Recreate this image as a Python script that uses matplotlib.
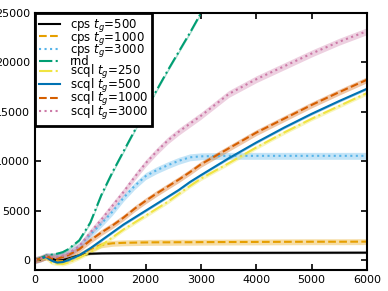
import numpy as np
import matplotlib
matplotlib.use('Agg')
import matplotlib.pyplot as plt

# gemeinsames x-Raster
x = [0, 100, 200, 300, 400, 500, 600, 800, 1000, 1200, 1400, 1600, 1800, 2000,
     2200, 2400, 2600, 2800, 3000, 3500, 4000, 4500, 5000, 5500, 6000]

cps500 = [0, 150, 350, 150, -50, 0, 150, 500, 650, 690, 700, 705, 710, 715,
          720, 720, 725, 725, 730, 735, 740, 745, 750, 755, 760]
cps1000 = [0, 150, 350, 150, -100, -100, 50, 500, 1100, 1550, 1700, 1750, 1770, 1790,
           1800, 1800, 1810, 1810, 1820, 1830, 1840, 1850, 1860, 1860, 1870]
cps3000 = [0, 150, 400, 350, 300, 400, 600, 1400, 2600, 3700, 4900, 6300, 7500, 8500,
           9100, 9600, 10050, 10400, 10500, 10550, 10550, 10550, 10550, 10550, 10550]
rnd = [0, 200, 450, 550, 650, 800, 1100, 2000, 3800, 6600, 8900, 11000, 13100, 15200,
       17200, 19200, 21100, 23000, 25000, np.nan, np.nan, np.nan, np.nan, np.nan, np.nan]
scql250 = [0, 100, 200, -250, -350, -400, -250, 250, 800, 1500, 2300, 3100, 3800, 4500,
           5200, 5900, 6700, 7500, 8250, 9800, 11400, 12900, 14300, 15600, 16900]
scql500 = [0, 150, 300, -50, -250, -200, 0, 500, 1200, 2000, 2800, 3600, 4300, 5000,
           5700, 6400, 7100, 7900, 8600, 10300, 11900, 13400, 14800, 16100, 17340]
scql1000 = [0, 150, 350, 200, 150, 300, 500, 1100, 2000, 2800, 3500, 4300, 5200, 6000,
            6750, 7450, 8150, 8900, 9700, 11300, 12900, 14300, 15700, 17000, 18250]
scql3000 = [0, 150, 400, 350, 350, 450, 650, 1400, 2800, 4100, 5500, 6900, 8400, 9800,
            11000, 12100, 13000, 13800, 14600, 16800, 18300, 19600, 20900, 22100, 23160]

# Streuung (halbe Bandbreite)
spread = [100, 300, 350, 150, 200, 120, 300, 350]

labels = ['cps $t_g$=500', 'cps $t_g$=1000', 'cps $t_g$=3000', 'rnd',
          'scql $t_g$=250', 'scql $t_g$=500', 'scql $t_g$=1000', 'scql $t_g$=3000']
series = [cps500, cps1000, cps3000, rnd, scql250, scql500, scql1000, scql3000]
colors = ['black', '#E69F00', '#56B4E9', '#009E73', '#F0E442', '#0072B2', '#D55E00', '#CC79A7']
styles = ['-', '--', ':', '-.', '-.', '-', '--', ':']

plt.rcParams['font.size'] = 8
fig = plt.figure(figsize=(3.88, 2.91), dpi=100)
ax = fig.add_axes([35/388, 21/291, 332/388, 257/291])

for y, s, lab, c, ls in zip(series, spread, labels, colors, styles):
    y = np.array(y, dtype=float)
    ax.fill_between(x, y - s, y + s, color=c, alpha=0.35, linewidth=0)
    ax.plot(x, y, color=c, linestyle=ls, linewidth=1.5, label=lab)

ax.set_xlim(0, 6000)
ax.set_ylim(-1000, 25000)
ax.set_xticks(range(0, 6001, 1000))
ax.set_yticks(range(0, 25001, 5000))
ax.tick_params(direction='in', top=True, right=True, length=4, width=1.2)
for sp in ax.spines.values():
    sp.set_linewidth(1.5)

leg = ax.legend(loc='upper left', borderaxespad=0, fancybox=False, framealpha=1,
                fontsize=8.5, handlelength=1.8, handletextpad=0.8, labelspacing=-0.38,
                borderpad=0.35)
leg.get_frame().set_edgecolor('black')
leg.get_frame().set_linewidth(2)

fig.savefig('out.png', dpi=100)
